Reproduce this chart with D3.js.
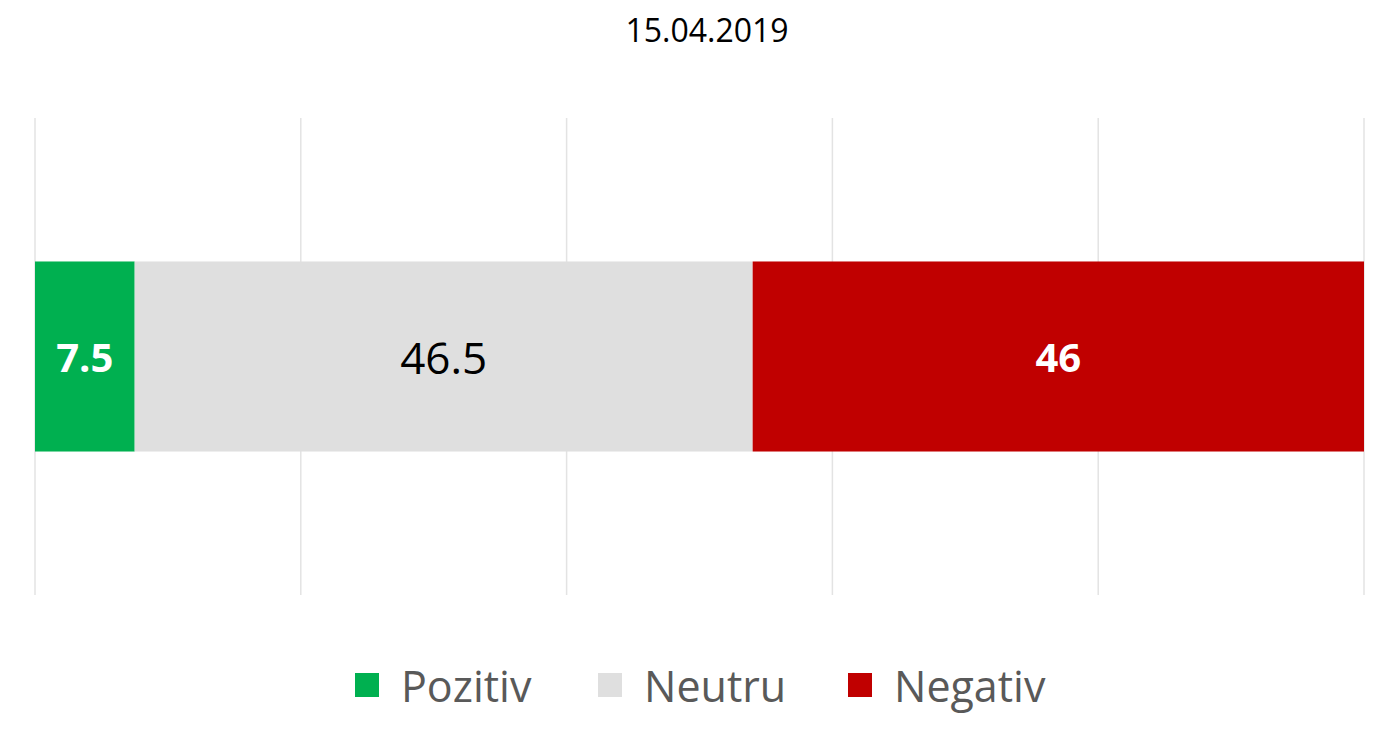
<!DOCTYPE html>
<html>
<head>
<meta charset="utf-8">
<script src="https://cdn.jsdelivr.net/npm/d3@7"></script>
<style>
  body { margin: 0; background: #fff; }
  text { font-family: "Open Sans", sans-serif; }
</style>
</head>
<body>
<div id="chart"></div>
<script>
const categories = ["Pozitiv", "Neutru", "Negativ"];
const values = [7.5, 46.5, 46];
const colors = ["#00b050", "#dfdfdf", "#c00000"];
const labelColors = ["#ffffff", "#000000", "#ffffff"];
const labelWeights = ["bold", "normal", "bold"];
const ticks = [0, 20, 40, 60, 80, 100];

const width = 1400, height = 735;
const svg = d3.select("#chart").append("svg")
  .attr("width", width).attr("height", height);

const x = d3.scaleLinear().domain([0, 100]).range([35, 1364]);
const y = d3.scaleBand().domain(["15.04.2019"]).range([118, 595])
  .paddingInner(0).paddingOuter(0.755);

svg.append("text")
  .attr("x", 707).attr("y", 42)
  .attr("text-anchor", "middle")
  .style("font-size", "32px").style("fill", "#000")
  .text("15.04.2019");

svg.selectAll(".grid").data(ticks).enter().append("line")
  .attr("x1", d => x(d)).attr("x2", d => x(d))
  .attr("y1", 118).attr("y2", 595)
  .style("stroke", "#e3e3e3").style("stroke-width", 1.5);

let acc = 0;
const segs = values.map((v, i) => {
  const s = { i, start: acc, end: acc + v, v };
  acc += v;
  return s;
});

svg.selectAll(".seg").data(segs).enter().append("rect")
  .attr("x", d => x(d.start)).attr("width", d => x(d.end) - x(d.start))
  .attr("y", y("15.04.2019")).attr("height", y.bandwidth())
  .style("fill", d => colors[d.i]);

svg.selectAll(".lbl").data(segs).enter().append("text")
  .attr("x", d => (x(d.start) + x(d.end)) / 2)
  .attr("y", y("15.04.2019") + y.bandwidth() / 2)
  .attr("text-anchor", "middle").attr("dominant-baseline", "central")
  .style("font-size", d => d.i === 1 ? "44px" : "40px")
  .style("font-weight", d => labelWeights[d.i])
  .style("fill", d => labelColors[d.i])
  .text(d => d.v);

const legendX = [355, 598, 848];
const lg = svg.selectAll(".lg").data(categories).enter().append("g")
  .attr("transform", (d, i) => `translate(${legendX[i]},685)`);
lg.append("rect").attr("x", 0).attr("y", -12).attr("width", 24).attr("height", 24)
  .style("fill", (d, i) => colors[i]);
lg.append("text").attr("x", 46).attr("y", 0)
  .attr("dominant-baseline", "central")
  .style("font-size", "43px").style("fill", "#595959")
  .text(d => d);
</script>
</body>
</html>
